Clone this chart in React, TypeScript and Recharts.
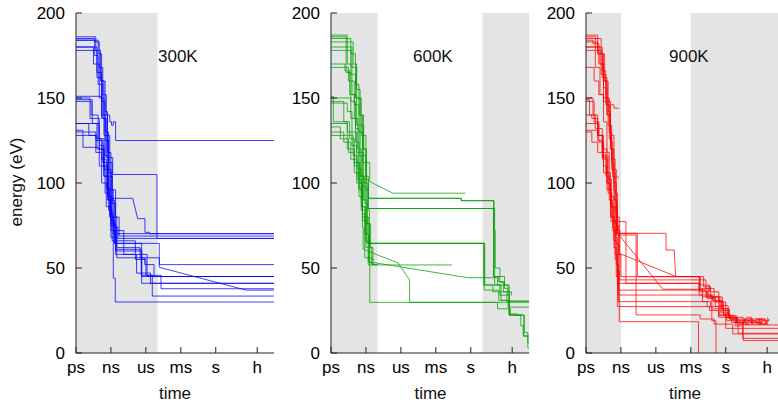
import React from 'react';
import { LineChart, Line, XAxis, YAxis, ReferenceArea } from 'recharts';

// time axis is log10(seconds); h = 3600 s
const timeTicks = [-12, -9, -6, -3, 0, Math.log10(3600)];
const timeLabels = ['ps', 'ns', 'us', 'ms', 's', 'h'];
const energyTicks = [0, 50, 100, 150, 200];

// grey bands (log10 s)
const shade300 = [[-12, -5]];
const shade600 = [[-12, -8], [1, 5]];
const shade900 = [[-12, -9], [-3, 5]];

// runs: [t, E] = energy jumps to E at t; [t, E, 1] = ramps to E by t
const runs300: number[][][] = [
  [[-12, 185], [-10.4, 183], [-10.0, 168], [-9.7, 152], [-9.4, 140], [-9.1, 136], [-8.95, 134], [-8.8, 136], [-8.6, 125], [5, 125]],
  [[-12, 184], [-10.1, 176], [-9.8, 160], [-9.5, 142], [-9.3, 128], [-9.1, 115], [-8.85, 105], [-5.05, 67.4], [5, 67.4]],
  [[-12, 150], [-10.8, 138], [-10.0, 120], [-9.6, 104], [-8.9, 91], [-7.13, 91], [-6.7, 79, 1], [-6.08, 71], [-5.7, 70.2], [5, 70.2]],
  [[-12, 180], [-10.2, 165], [-9.8, 148], [-9.5, 130], [-9.2, 112], [-8.9, 96], [-8.6, 80], [-8.3, 68.8], [5, 68.8]],
  [[-12, 149], [-10.6, 135], [-10.0, 122], [-9.6, 110], [-9.3, 92], [-9.0, 78], [-8.7, 64.5], [-4.85, 52], [5, 52]],
  [[-12, 130], [-10.3, 125], [-9.7, 112], [-9.3, 96], [-9.0, 82], [-8.8, 70], [-8.5, 62], [-6.5, 56], [-4.85, 50.4], [2.6, 37, 1], [5, 37]],
  [[-12, 135], [-10.9, 128], [-10.2, 120], [-9.6, 104], [-9.2, 84], [-8.9, 66], [-8.6, 60], [-6.36, 45], [5, 45]],
  [[-12, 128], [-10.3, 118], [-9.8, 100], [-9.4, 86], [-9.0, 72], [-8.7, 64.5], [-6.36, 41], [5, 41]],
  [[-12, 186], [-10.3, 178], [-9.9, 160], [-9.6, 140], [-9.3, 118], [-9.0, 96], [-8.8, 80], [-8.5, 66], [-6.9, 55], [-6.0, 45.7], [-4.7, 37.8], [5, 37.8]],
  [[-12, 148], [-10.7, 140], [-10.1, 126], [-9.6, 108], [-9.3, 90], [-9.0, 75], [-8.6, 61], [-6.4, 45.7], [-5.45, 33.5], [5, 33.5]],
  [[-12, 178], [-10.2, 162], [-9.8, 140], [-9.5, 116], [-9.2, 90], [-9.0, 68], [-8.8, 44], [-8.63, 30], [5, 30]],
  [[-12, 151], [-9.8, 138], [-9.5, 125], [-9.2, 106], [-8.9, 88], [-8.6, 74], [-8.55, 70.2], [5, 70.2]],
  [[-12, 131], [-11.4, 121], [-10.0, 110], [-9.5, 94], [-9.1, 80], [-8.8, 72], [-7.9, 58], [-5.9, 45], [5, 45]],
  [[-12, 184], [-10.4, 175], [-10.1, 158], [-9.7, 138], [-9.4, 115], [-9.1, 92], [-8.9, 76], [-8.6, 58], [-6.8, 47], [-5.6, 41], [5, 41]],
  [[-12, 180], [-10.5, 170], [-10.0, 150], [-9.6, 128], [-9.3, 108], [-9.0, 90], [-8.7, 74], [-8.4, 67.4], [5, 67.4]],
  [[-12, 135], [-10.2, 126], [-9.8, 114], [-9.4, 97], [-9.1, 80], [-8.8, 68], [-8.5, 56], [-6.1, 52], [-5.3, 45], [5, 45]],
];

const runs600: number[][][] = [
  [[-12, 187], [-10.6, 180], [-10.2, 168], [-9.8, 150], [-9.4, 128], [-9.0, 112], [-8.67, 100.8], [-6.68, 94, 1], [-0.46, 94]],
  [[-12, 185], [-10.3, 176], [-9.9, 158], [-9.6, 140], [-9.3, 120], [-9.0, 104], [-8.8, 91], [-0.83, 89.6], [1.96, 45], [2.5, 41.6], [2.9, 38], [3.2, 36], [3.5, 33.9]],
  [[-12, 180], [-10.6, 170], [-10.2, 152], [-9.8, 134], [-9.5, 118], [-9.2, 100], [-8.9, 85], [2.05, 40], [2.6, 36], [3.1, 30.5], [5, 30.5]],
  [[-12, 178], [-10.7, 165], [-10.3, 148], [-9.9, 132], [-9.6, 116], [-9.3, 98], [-9.0, 80], [-8.8, 64.5], [1.16, 37], [2.4, 31], [3.2, 27], [5, 27]],
  [[-12, 150], [-10.3, 138], [-9.9, 124], [-9.6, 108], [-9.4, 90], [-9.3, 74], [-9.24, 61], [-6.25, 53, 1], [-5.25, 43, 1], [-5.25, 29.8], [5, 29.8]],
  [[-12, 148], [-10.9, 136], [-10.4, 126], [-10.0, 112], [-9.6, 96], [-9.3, 80], [-9.0, 65], [-8.8, 53.7], [-0.27, 44.3, 1], [1.9, 44.3], [2.3, 40], [2.8, 36], [3.3, 23], [4.0, 22.3], [4.55, 10], [5, 10]],
  [[-12, 135], [-10.6, 128], [-10.1, 116], [-9.7, 102], [-9.4, 86], [-9.1, 70], [-8.8, 51.8], [-1.6, 51.8]],
  [[-12, 130], [-10.9, 124], [-10.3, 114], [-9.8, 100], [-9.4, 84], [-9.0, 66], [-8.67, 29.8], [1.9, 29.8], [2.3, 26], [3.4, 22.3], [4.3, 22.3]],
  [[-12, 168], [-10.5, 160], [-10.0, 146], [-9.6, 130], [-9.3, 112], [-9.0, 96], [-8.8, 85], [1.95, 45], [2.4, 42], [2.8, 40], [3.3, 22.3], [4.3, 16], [4.5, 10], [4.9, 3], [5, 3]],
  [[-12, 186], [-10.7, 178], [-10.3, 164], [-9.9, 150], [-9.5, 134], [-9.2, 116], [-9.0, 100], [-8.8, 84], [-8.7, 62], [-8.4, 52], [-8.0, 52]],
  [[-12, 151], [-11.8, 136], [-10.6, 130], [-10.2, 122], [-9.8, 112], [-9.5, 100], [-9.3, 82], [-9.1, 56], [-8.5, 52], [-8.2, 52]],
  [[-12, 133], [-11.2, 126], [-10.5, 118], [-10.0, 106], [-9.6, 92], [-9.3, 78], [-9.0, 62], [-8.7, 53], [-8.3, 53]],
  [[-12, 183], [-10.1, 170], [-9.8, 155], [-9.5, 140], [-9.2, 120], [-8.95, 102], [-8.8, 91], [-0.8, 89.6], [2.0, 72], [2.1, 50], [2.5, 45], [2.9, 40], [3.2, 33.9]],
  [[-12, 128], [-10.6, 120], [-10.0, 110], [-9.6, 97], [-9.3, 86], [-9.0, 76], [-8.7, 64.5], [1.1, 40], [2.5, 34], [3.3, 30.5], [5, 30.5]],
  [[-12, 147], [-10.6, 142], [-10.2, 130], [-9.8, 118], [-9.5, 104], [-9.2, 90], [-8.9, 76], [-8.6, 62], [-8.5, 55], [-8.3, 55]],
  [[-12, 170], [-10.8, 166], [-10.4, 152], [-10.0, 138], [-9.7, 120], [-9.4, 104], [-9.1, 88], [-8.9, 70], [-8.8, 64.5], [1.2, 40], [1.9, 36], [2.6, 31], [3.3, 22.3], [4.55, 22.3], [4.6, 12], [4.9, 6], [5, 6]],
];

const runs900: number[][][] = [
  [[-12, 187], [-11.0, 180], [-10.6, 166], [-10.3, 150], [-10.0, 130], [-9.8, 112], [-9.6, 96], [-9.5, 84], [-9.4, 70.4], [-5.13, 60.6], [-4.42, 60.6], [-4.3, 45, 1], [-2.27, 37], [-1.6, 33], [-0.9, 30.2], [-0.2, 22.4], [0.4, 20], [1.2, 19], [1.8, 21], [2.2, 18], [2.8, 20], [3.4, 19], [3.7, 20]],
  [[-12, 185], [-10.7, 176], [-10.4, 160], [-10.1, 142], [-9.9, 124], [-9.7, 106], [-9.5, 90], [-9.4, 71.4], [-5.4, 37.5, 1], [-2.3, 37.5], [-2.0, 33], [-1.1, 30.2], [-0.4, 24], [0.2, 21], [1.0, 18], [1.6, 20], [2.3, 17], [3.0, 18]],
  [[-12, 180], [-10.8, 170], [-10.5, 156], [-10.2, 140], [-9.9, 120], [-9.6, 100], [-9.4, 80], [-9.14, 58.6], [-4.27, 45, 1], [-2.3, 45], [-2.25, 36], [-1.6, 32], [-0.9, 27.3], [-0.2, 23], [0.3, 20], [0.9, 17], [1.5, 19], [2.1, 18], [2.6, 20], [3.1, 17], [3.5, 19]],
  [[-12, 178], [-11.2, 168], [-10.8, 152], [-10.5, 136], [-10.2, 118], [-10.0, 96], [-9.85, 77.3], [-8.57, 41], [-2.3, 34.1], [-1.2, 26], [-0.5, 22.4], [0.0, 14.5], [5, 14.5]],
  [[-12, 150], [-11.4, 140], [-11.0, 128], [-10.6, 115], [-10.2, 100], [-9.9, 86], [-9.6, 76], [-9.4, 69.4], [-7.7, 22.4], [-3.3, 22.4], [-2.2, 20], [-1.0, 17], [0.6, 11.2], [5, 11.2]],
  [[-12, 148], [-11.3, 136], [-10.9, 124], [-10.5, 110], [-10.2, 96], [-9.9, 80], [-9.6, 62], [-9.4, 45], [-9.25, 34.1], [-2.2, 34.1], [-2.0, 30.2], [-1.3, 27.3], [-0.6, 22], [0.1, 19], [0.8, 16], [1.45, 8.6], [5, 8.6]],
  [[-12, 135], [-10.9, 128], [-10.5, 116], [-10.1, 102], [-9.8, 86], [-9.5, 68], [-9.3, 48], [-9.14, 18.4], [-2.34, 18.4], [-2.34, -20]],
  [[-12, 130], [-11.5, 124], [-11.0, 118], [-10.5, 106], [-10.1, 94], [-9.8, 80], [-9.6, 66], [-9.4, 52], [-9.2, 30.2], [-2.3, 30.2], [-1.6, 27.3], [-1.2, 19], [-0.84, -20]],
  [[-12, 168], [-11.3, 160], [-10.9, 152], [-10.5, 148], [-9.9, 146], [-9.6, 144], [-9.2, 144]],
  [[-12, 183], [-11.0, 176], [-10.5, 160], [-10.2, 140], [-9.9, 120], [-9.7, 103.5], [-9.2, 103.5]],
  [[-12, 186], [-11.2, 178], [-10.7, 164], [-10.3, 146], [-10.0, 126], [-9.8, 108], [-9.6, 90], [-9.4, 75], [-9.2, 58], [-9.0, 44.9], [-2.3, 44.9], [-2.2, 40], [-1.4, 36], [-0.6, 30], [0.0, 21], [1.48, 16.5], [5, 16.5]],
  [[-12, 184], [-11.4, 182], [-10.9, 170], [-10.5, 150], [-10.1, 134], [-9.8, 114], [-9.5, 94], [-9.3, 72], [-9.1, 43], [-2.2, 43], [-1.7, 38], [-1.0, 33], [-0.3, 25], [0.3, 20], [1.05, 11.6], [5, 11.6]],
  [[-12, 149], [-11.7, 140], [-11.2, 132], [-10.6, 120], [-10.2, 106], [-9.9, 92], [-9.6, 78], [-9.4, 64], [-9.2, 37], [-2.3, 37], [-1.7, 33], [-0.6, 28], [0.2, 22], [0.9, 18], [1.5, 7.3], [5, 7.3]],
  [[-12, 131], [-11.0, 125], [-10.6, 114], [-10.2, 100], [-9.9, 88], [-9.7, 74], [-9.5, 58], [-9.3, 41], [-2.4, 41], [-2.2, 38], [-1.5, 34], [-1.1, 31], [-0.3, 26], [0.2, 22], [0.7, 19], [1.3, 20], [1.7, 17], [2.2, 19], [2.7, 17.5], [3.1, 19], [3.4, 17]],
  [[-12, 140], [-11.5, 138], [-11.0, 128], [-10.6, 118], [-10.3, 104], [-10.0, 90], [-9.7, 72], [-9.5, 55], [-9.3, 27.3], [-2.3, 27.3], [-1.4, 25], [-0.6, 21], [0.5, 18], [1.2, 17], [1.9, 19], [2.5, 18], [3.0, 20], [3.3, 18]],
  [[-12, 180], [-11.0, 176], [-10.6, 162], [-10.2, 146], [-9.9, 128], [-9.6, 108], [-9.4, 88], [-9.3, 70.4], [-7.6, 70.4], [-7.6, 44.9], [-2.3, 44.9], [-1.9, 39], [-1.3, 33], [-0.5, 26], [0.3, 21], [1.0, 18], [2.0, 20], [2.9, 17], [3.6, 21]],
];

// turn jump/ramp list into polyline vertices
function expand(run: number[][]) {
  const pts = [{ t: run[0][0], e: run[0][1] }];
  for (let i = 1; i < run.length; i++) {
    const [t, e, ramp] = run[i];
    const prev = pts[pts.length - 1];
    if (!ramp && e !== prev.e) pts.push({ t, e: prev.e });
    pts.push({ t, e });
  }
  return pts;
}

const FONT = '"Liberation Sans", Arial, sans-serif';
const AXIS = '#222';

function Panel({ left, runs, color, shade }: { left: number; runs: number[][][]; color: string; shade: number[][] }) {
  return (
    <div style={{ position: 'absolute', left, top: 0 }}>
      <LineChart width={279} height={408} margin={{ top: 13, right: 5, bottom: 25, left: 0 }}>
        {shade.map(([a, b]) => (
          <ReferenceArea key={a} x1={a} x2={b} y1={0} y2={200} fill="#e4e4e4" fillOpacity={1} stroke="none" ifOverflow="hidden" />
        ))}
        <XAxis
          dataKey="t"
          type="number"
          domain={[-12, 5]}
          ticks={timeTicks}
          interval={0}
          tickFormatter={(v: number, i: number) => timeLabels[i]}
          allowDataOverflow
          tickSize={-6}
          tickMargin={14}
          height={30}
          stroke={AXIS}
          tick={{ fill: '#000', fontSize: 17 }}
        />
        <XAxis xAxisId="top" orientation="top" type="number" domain={[-12, 5]} ticks={timeTicks} interval={0} tick={false} tickSize={-6} height={0} allowDataOverflow stroke={AXIS} />
        <YAxis
          type="number"
          domain={[0, 200]}
          ticks={energyTicks}
          interval={0}
          allowDataOverflow
          tickSize={-6}
          tickMargin={17}
          width={76}
          stroke={AXIS}
          tick={{ fill: '#000', fontSize: 17 }}
        />
        <YAxis yAxisId="right" orientation="right" type="number" domain={[0, 200]} ticks={energyTicks} interval={0} tick={false} tickSize={-6} width={0} stroke={AXIS} />
        {runs.map((r, i) => (
          <Line
            key={i}
            data={expand(r)}
            dataKey="e"
            type="linear"
            stroke={color}
            strokeOpacity={0.75}
            strokeWidth={1}
            dot={false}
            activeDot={false}
            isAnimationActive={false}
          />
        ))}
      </LineChart>
    </div>
  );
}

export default function App() {
  return (
    <div style={{ position: 'absolute', left: 0, top: 0, width: 778, height: 408, overflow: 'hidden', background: '#fff', fontFamily: FONT }}>
      <Panel left={0} runs={runs300} color="#0000ff" shade={shade300} />
      <Panel left={255} runs={runs600} color="#00a000" shade={shade600} />
      <Panel left={510} runs={runs900} color="#ff0000" shade={shade900} />
      <svg width={778} height={408} style={{ position: 'absolute', left: 0, top: 0, pointerEvents: 'none' }} fontFamily={FONT} fontSize={17} fill="#111">
        <text x={21.5} y={182} textAnchor="middle" transform="rotate(-90 21.5 182)">energy (eV)</text>
        <text x={175} y={399} textAnchor="middle">time</text>
        <text x={430.5} y={399} textAnchor="middle">time</text>
        <text x={685} y={399} textAnchor="middle">time</text>
        <text x={158} y={61.5}>300K</text>
        <text x={413} y={61.5}>600K</text>
        <text x={669} y={61.5}>900K</text>
      </svg>
    </div>
  );
}
